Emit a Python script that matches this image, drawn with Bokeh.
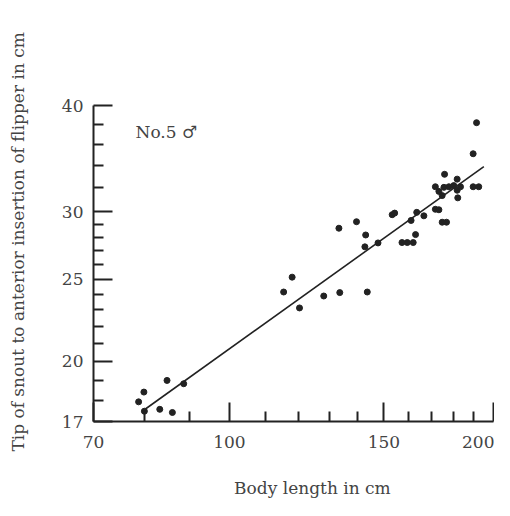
from bokeh.plotting import figure
from bokeh.models import Range1d, FixedTicker, NumeralTickFormatter, Label
from bokeh.embed import file_html
from bokeh.resources import INLINE

# --- data (log-log plot) ---
body_length = [78.8, 79.9, 80.0, 83.3, 84.9, 86.1, 88.7,
               115.3, 117.9, 120.2, 128.1, 133.3, 133.6, 139.6, 143.0, 142.7, 143.6, 147.7,
               153.3, 154.3, 157.3, 159.5, 162.0, 161.1, 163.0, 163.5, 166.6,
               171.7, 173.3, 174.8, 176.8, 175.9, 171.7, 173.3, 175.6, 177.9, 174.8,
               180.2, 181.8, 181.8, 182.1, 183.4, 189.6, 192.4, 189.6, 191.3]
snout_flipper = [17.93, 18.41, 17.48, 17.57, 19.0, 17.42, 18.83,
                 24.14, 25.13, 23.12, 23.88, 28.69, 24.1, 29.2, 28.17, 27.28, 24.14, 27.57,
                 29.76, 29.89, 27.6, 27.6, 27.6, 29.3, 28.2, 29.95, 29.67,
                 30.2, 30.16, 29.16, 29.16, 33.2, 32.1, 31.7, 32.05, 32.1, 31.34,
                 32.2, 32.77, 31.8, 31.15, 32.1, 32.1, 32.1, 35.1, 38.18]

fit_x = [80.0, 195.0]
fit_y = [17.55, 33.9]

x_ticks = [70, 100, 150, 200]
x_minor = [80, 90, 110, 120, 130, 140, 160, 170, 180, 190]
y_ticks = [17, 20, 25, 30, 40]
y_minor = [18, 19, 21, 22, 23, 24, 26, 27, 28, 29, 32, 34, 36, 38]

x_title = "Body length in cm"
y_title = "Tip of snout to anterior insertion of flipper in cm"
note = "No.5 \u2642"

FONT = "DejaVu Serif"
INK = "#222222"
TXT = "#444444"
NBSP = "\u00a0"

p = figure(width=494, height=500, x_axis_type="log", y_axis_type="log",
           x_range=Range1d(70, 200), y_range=Range1d(17, 40),
           output_backend="svg", toolbar_location=None,
           min_border_left=93, min_border_right=1, min_border_top=105, min_border_bottom=77)
p.outline_line_color = None
p.grid.visible = False
p.background_fill_color = "white"
p.border_fill_color = "white"

for ax, ticks, minor in ((p.xaxis[0], x_ticks, x_minor), (p.yaxis[0], y_ticks, y_minor)):
    ax.ticker = FixedTicker(ticks=ticks, minor_ticks=minor)
    ax.formatter = NumeralTickFormatter(format="0")
    ax.axis_line_color = INK
    ax.axis_line_width = 2
    ax.major_tick_line_color = INK
    ax.major_tick_line_width = 2
    ax.minor_tick_line_color = INK
    ax.minor_tick_line_width = 2
    ax.major_tick_in = 19
    ax.major_tick_out = 0
    ax.minor_tick_in = 10
    ax.minor_tick_out = 0
    ax.major_label_text_font = FONT
    ax.major_label_text_font_size = "17px"
    ax.major_label_text_color = TXT
    ax.axis_label_text_font = FONT
    ax.axis_label_text_font_style = "normal"
    ax.axis_label_text_color = TXT

p.xaxis[0].major_label_standoff = 14
p.yaxis[0].major_label_standoff = 10

# axis titles (leading padding shifts them off-centre as in the reference)
p.xaxis[0].axis_label = NBSP * 7 + x_title
p.xaxis[0].axis_label_text_font_size = "17px"
p.xaxis[0].axis_label_standoff = 27
p.yaxis[0].axis_label = NBSP * 8 + y_title
p.yaxis[0].axis_label_text_font_size = "17px"
p.yaxis[0].axis_label_standoff = 31

p.line(fit_x, fit_y, line_color=INK, line_width=1.6)
p.scatter(body_length, snout_flipper, size=6, color=INK)

p.add_layout(Label(x=42, y=290, x_units="screen", y_units="screen", text=note,
                   text_align="left", text_baseline="middle",
                   text_font=FONT, text_font_size="17px", text_color=TXT))

open("out.html", "w").write(file_html(p, INLINE))
